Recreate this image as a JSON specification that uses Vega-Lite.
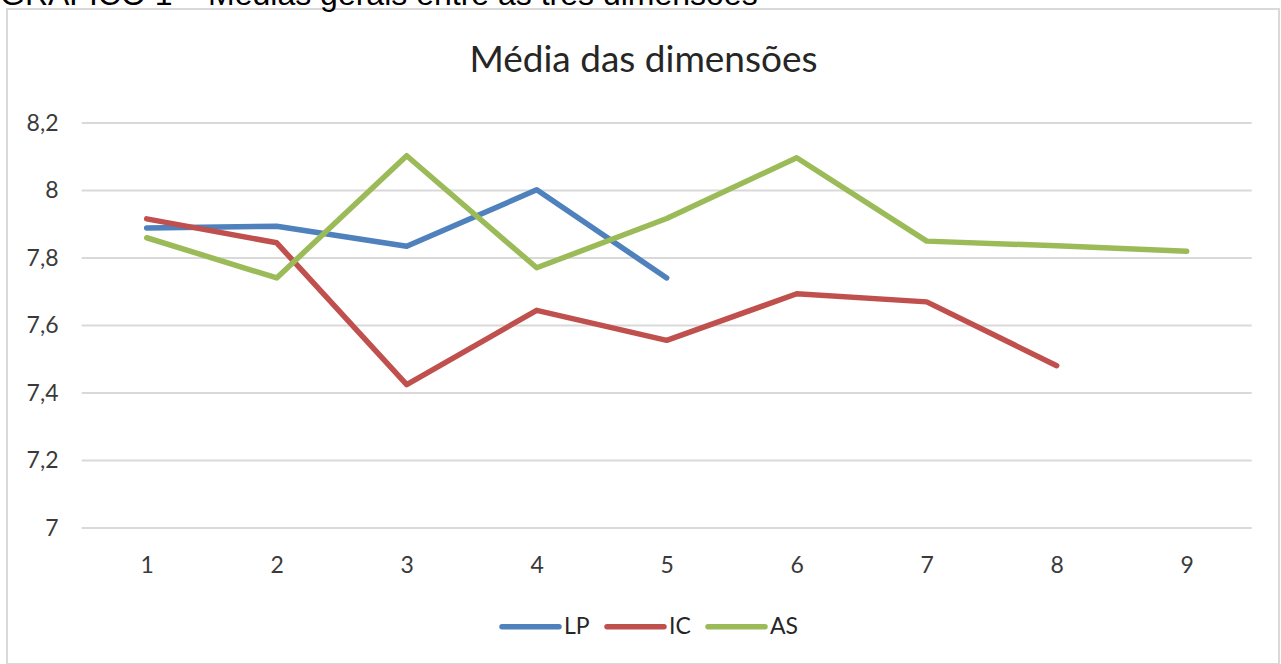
{
  "$schema": "https://vega.github.io/schema/vega-lite/v6.json",
  "autosize": {"type": "none"},
  "padding": {"left": 7, "top": 9, "right": 2, "bottom": 0},
  "width": 1272,
  "height": 655,
  "background": "white",
  "title": {
    "text": "GRÁFICO 1 – Médias gerais entre as três dimensões",
    "anchor": "start",
    "frame": "group",
    "font": "Liberation Sans",
    "fontSize": 32,
    "fontWeight": "normal",
    "color": "#000000",
    "baseline": "alphabetic",
    "dx": -7,
    "dy": 10,
    "offset": -18
  },
  "config": {
    "view": {"stroke": "#d9d9d9", "strokeWidth": 2},
    "font": "Lato"
  },
  "resolve": {"axis": {"x": "independent"}},
  "encoding": {
    "y": {
      "field": "valor",
      "type": "quantitative",
      "scale": {"domain": [6.59704, 8.53778], "nice": false, "zero": false},
      "axis": {
        "orient": "left",
        "offset": -56,
        "values": [7, 7.2, 7.4, 7.6, 7.8, 8, 8.2],
        "labelExpr": "replace(format(datum.value, '.1~f'), '.', ',')",
        "grid": false,
        "domain": false,
        "ticks": false,
        "tickSize": 0,
        "labelPadding": 5,
        "labelFont": "Lato",
        "labelFontSize": 23,
        "labelColor": "#3a3a3a",
        "title": null
      }
    }
  },
  "layer": [
    {
      "data": {"values": [
        {"valor": 7}, {"valor": 7.2}, {"valor": 7.4}, {"valor": 7.6},
        {"valor": 7.8}, {"valor": 8}, {"valor": 8.2}
      ]},
      "mark": {"type": "rule", "color": "#d9d9d9", "strokeWidth": 2},
      "encoding": {
        "x": {
          "datum": 0.5,
          "type": "quantitative",
          "axis": {
            "orient": "top",
            "offset": -70,
            "labels": false,
            "ticks": false,
            "domain": false,
            "grid": false,
            "title": "Média das dimensões",
            "titleFont": "Lato",
            "titleFontSize": 37,
            "titleFontWeight": "normal",
            "titleColor": "#262626",
            "titlePadding": 0
          }
        },
        "x2": {"datum": 9.5}
      }
    },
    {
      "data": {"values": [
        {"dimensao": 1, "serie": "LP", "valor": 7.889},
        {"dimensao": 2, "serie": "LP", "valor": 7.894},
        {"dimensao": 3, "serie": "LP", "valor": 7.835},
        {"dimensao": 4, "serie": "LP", "valor": 8.002},
        {"dimensao": 5, "serie": "LP", "valor": 7.741},
        {"dimensao": 1, "serie": "IC", "valor": 7.916},
        {"dimensao": 2, "serie": "IC", "valor": 7.845},
        {"dimensao": 3, "serie": "IC", "valor": 7.425},
        {"dimensao": 4, "serie": "IC", "valor": 7.645},
        {"dimensao": 5, "serie": "IC", "valor": 7.556},
        {"dimensao": 6, "serie": "IC", "valor": 7.694},
        {"dimensao": 7, "serie": "IC", "valor": 7.670},
        {"dimensao": 8, "serie": "IC", "valor": 7.481},
        {"dimensao": 1, "serie": "AS", "valor": 7.860},
        {"dimensao": 2, "serie": "AS", "valor": 7.741},
        {"dimensao": 3, "serie": "AS", "valor": 8.103},
        {"dimensao": 4, "serie": "AS", "valor": 7.771},
        {"dimensao": 5, "serie": "AS", "valor": 7.917},
        {"dimensao": 6, "serie": "AS", "valor": 8.097},
        {"dimensao": 7, "serie": "AS", "valor": 7.850},
        {"dimensao": 8, "serie": "AS", "valor": 7.836},
        {"dimensao": 9, "serie": "AS", "valor": 7.820}
      ]},
      "mark": {"type": "line", "strokeWidth": 5.5, "strokeCap": "round", "strokeJoin": "round"},
      "encoding": {
        "x": {
          "field": "dimensao",
          "type": "quantitative",
          "scale": {"domain": [-0.0746, 9.71], "nice": false, "zero": false},
          "axis": {
            "orient": "bottom",
            "offset": -99,
            "values": [1, 2, 3, 4, 5, 6, 7, 8, 9],
            "format": "d",
            "grid": false,
            "domain": false,
            "ticks": false,
            "tickSize": 0,
            "labelPadding": 0,
            "labelBaseline": "middle",
            "labelFont": "Lato",
            "labelFontSize": 23,
            "labelColor": "#3a3a3a",
            "title": null
          }
        },
        "color": {
          "field": "serie",
          "type": "nominal",
          "scale": {"domain": ["LP", "IC", "AS"], "range": ["#4F81BD", "#C0504D", "#9BBB59"]},
          "legend": {
            "orient": "none",
            "legendX": 492,
            "legendY": 586,
            "direction": "horizontal",
            "title": null,
            "padding": 0,
            "symbolType": "stroke",
            "symbolSize": 3249,
            "symbolStrokeWidth": 5.5,
            "labelFont": "Lato",
            "labelFontSize": 23,
            "labelColor": "#262626",
            "labelOffset": 2,
            "columnPadding": 6,
            "encode": {"symbols": {"update": {"strokeCap": {"value": "round"}}}}
          }
        }
      }
    }
  ]
}
